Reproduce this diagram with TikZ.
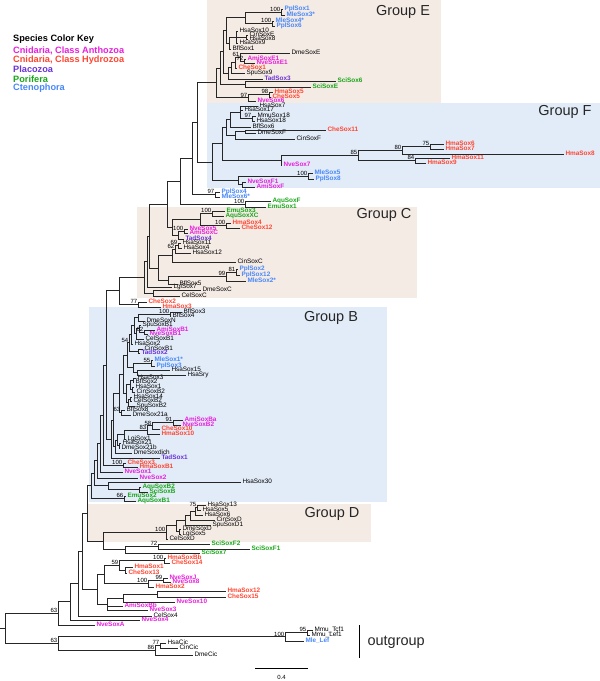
\documentclass[tikz,border=0pt]{standalone}
\usepackage{fontspec}
\setmainfont{Liberation Sans}

\definecolor{anthC}{RGB}{232,30,220}
\definecolor{hydrC}{RGB}{255,70,50}
\definecolor{placC}{RGB}{105,50,215}
\definecolor{poriC}{RGB}{25,165,25}
\definecolor{ctenC}{RGB}{70,135,250}
\definecolor{boxE}{RGB}{245,235,229}
\definecolor{boxF}{RGB}{226,236,248}

\tikzset{
	br/.style={line width=1pt, draw=black!85},
	lf/.style={anchor=west, inner xsep=1.3pt, inner ysep=0pt, text height=4.5pt, text depth=1.1pt, font=\fontsize{6.4}{7}\selectfont},
	anth/.style={lf, text=anthC, font=\fontsize{6.4}{7}\selectfont\bfseries},
	hydr/.style={lf, text=hydrC, font=\fontsize{6.4}{7}\selectfont\bfseries},
	plac/.style={lf, text=placC, font=\fontsize{6.4}{7}\selectfont\bfseries},
	pori/.style={lf, text=poriC, font=\fontsize{6.4}{7}\selectfont\bfseries},
	cten/.style={lf, text=ctenC, font=\fontsize{6.4}{7}\selectfont\bfseries},
	bs/.style={anchor=south east, inner xsep=0.6pt, inner ysep=0.4pt, font=\fontsize{6}{6}\selectfont},
	grp/.style={font=\fontsize{14.5}{16}\selectfont, text=black!85},
	key/.style={anchor=west, inner sep=0pt, font=\fontsize{9.2}{10}\selectfont\bfseries}
}

\begin{document}
\begin{tikzpicture}[x=1pt, y=-1pt]
	\useasboundingbox (0,0) rectangle (600,681);
	% group boxes
	\fill[boxE] (207,0) rectangle (441,103);
	\fill[boxF] (207,103) rectangle (600,188);
	\fill[boxE] (137,207) rectangle (417,298);
	\fill[boxF] (89,307) rectangle (387,502);
	\fill[boxE] (88,504) rectangle (371,542);
	\node[grp] (gE) at (403,12) {Group E};
	\node[grp] (gF) at (565,112) {Group F};
	\node[grp] (gC) at (384,215) {Group C};
	\node[grp] (gB) at (331,318) {Group B};
	\node[grp] (gD) at (332,514) {Group D};

	% colour key
	\node[key] (kTitle) at (13,39) {Species Color Key};
	\node[key, text=anthC] (kAnth) at (13,51) {Cnidaria, Class Anthozoa};
	\node[key, text=hydrC] (kHydr) at (13,60) {Cnidaria, Class Hydrozoa};
	\node[key, text=placC] (kPlac) at (13,69) {Placozoa};
	\node[key, text=poriC] (kPori) at (13,79) {Porifera};
	\node[key, text=ctenC] (kCten) at (13,88) {Ctenophora};

	% leaves
	\foreach \n/\x/\y/\t/\s in {
		PplSox1/283/9/PplSox1/cten, MleSox3s/285/15/MleSox3*/cten, MleSox4s/274/21/MleSox4*/cten, PplSox6/275/26/PplSox6/cten,
		HsaSox10/238/31/HsaSox10/lf, CinSoxE/248/35/CinSoxE/lf, HsaSox8/248/39/HsaSox8/lf, HsaSox9/238/43/HsaSox9/lf,
		BflSox1/231/49/BflSox1/lf, DmeSoxE/290/53/DmeSoxE/lf, AmiSoxE1/246/59/AmiSoxE1/anth, NveSoxE1/255/63/NveSoxE1/anth,
		CheSox1/237/68/CheSox1/hydr, SpuSox9/245/73/SpuSox9/lf, TadSox3/263/79/TadSox3/plac, SciSox6/336/81/SciSox6/pori,
		SciSoxE/311/87/SciSoxE/pori, HmaSox5/273/92/HmaSox5/hydr, CheSox5/271/97/CheSox5/hydr, NveSox6/256/101/NveSox6/anth,
		HsaSox7/258/106/HsaSox7/lf, HsaSox17/243/110/HsaSox17/lf, MmuSox18/256/116/MmuSox18/lf, HsaSox18/255/121/HsaSox18/lf,
		BflSox6/251/127/BflSox6/lf, CheSox11/326/130/CheSox11/hydr, DmeSoxF/256/133/DmeSoxF/lf, CinSoxF/295/139/CinSoxF/lf,
		HmaSox6/444/144/HmaSox6/hydr, HmaSox7/444/149/HmaSox7/hydr, HmaSox8/564/154/HmaSox8/hydr, HmaSox11/450/158/HmaSox11/hydr,
		HmaSox9/426/163/HmaSox9/hydr, NveSox7/282/165/NveSox7/anth, MleSox5/313/173/MleSox5/cten, PplSox8/314/179/PplSox8/cten,
		NveSoxF1/246/182/NveSoxF1/anth, AmiSoxF/255/187/AmiSoxF/anth, PplSox4/220/192/PplSox4/cten, MleSox6s/220/197/MleSox6*/cten,
		AquSoxF/271/201/AquSoxF/pori, EmuSox1/266/207/EmuSox1/pori,
		EmuSox3/225/211/EmuSox3/pori, AquSoxXC/224/216/AquSoxXC/pori, HmaSox4/231/223/HmaSox4/hydr, CheSox12/240/228/CheSox12/hydr,
		NveSox5/188/229/NveSox5/anth, AmiSoxC/188/233/AmiSoxC/anth, TadSox4/184/239/TadSox4/plac,
		HsaSox11/181/243/HsaSox11/lf, HsaSox4/182/248/HsaSox4/lf, HsaSox12/191/253/HsaSox12/lf, CinSoxC/236/262/CinSoxC/lf,
		PplSox2/238/269/PplSox2/cten, PplSox12/240/275/PplSox12/cten, MleSox2s/246/281/MleSox2*/cten,
		BflSox5/178/284/BflSox5/lf, LgiSox7/172/287/LgiSox7/lf, DmeSoxC/201/290/DmeSoxC/lf, CelSoxC/180/296/CelSoxC/lf,
		CheSox2/147/302/CheSox2/hydr, HmaSox3/161/307/HmaSox3/hydr,
		BflSox3/182/312/BflSox3/lf, BflSox4/171/316/BflSox4/lf, DmeSoxN/145/321/DmeSoxN/lf, SpuSoxB1/141/325/SpuSoxB1/lf,
		AmiSoxB1/155/330/AmiSoxB1/anth, NveSoxB1/148/334/NveSoxB1/anth, CelSoxB1/144/339/CelSoxB1/lf, HsaSox2/133/344/HsaSox2/lf,
		CinSoxB1/143/349/CinSoxB1/lf, TadSox2/140/353/TadSox2/plac, MleSox1s/153/360/MleSox1*/cten, PplSox3/155/366/PplSox3/cten,
		HsaSox15/170/370/HsaSox15/lf, HsaSry/186/375/HsaSry/lf, HsaSox3/136/378/HsaSox3/lf, BflSox2/134/382/BflSox2/lf,
		HsaSox1/134/387/HsaSox1/lf, CinSoxB2/135/392/CinSoxB2/lf, HsaSox14/132/397/HsaSox14/lf, CelSoxB2/132/401/CelSoxB2/lf,
		SpuSoxB2/135/406/SpuSoxB2/lf, BflSox8/125/410/BflSox8/lf, DmeSox21a/131/415/DmeSox21a/lf,
		AmiSoxBa/183/420/AmiSoxBa/anth, NveSoxB2/181/425/NveSoxB2/anth, CheSox10/160/429/CheSox10/hydr, HmaSox10/160/434/HmaSox10/hydr,
		LgiSox1/126/439/LgiSox1/lf, HsaSox21/121/443/HsaSox21/lf, DmeSox21b/120/448/DmeSox21b/lf, DmeSoxdich/132/453/DmeSoxdich/lf,
		TadSox1/160/458/TadSox1/plac, CheSox3/126/463/CheSox3/hydr, HmaSoxB1/138/467/HmaSoxB1/hydr,
		NveSox1/123/472/NveSox1/anth, NveSox2/138/478/NveSox2/anth, HsaSox30/241/482/HsaSox30/lf,
		AquSoxB2/141/487/AquSoxB2/pori, SciSoxB/148/492/SciSoxB/pori, EmuSox2/126/496/EmuSox2/pori, AquSoxB1/136/501/AquSoxB1/pori,
		HsaSox13/206/505/HsaSox13/lf, HsaSox5/201/510/HsaSox5/lf, HsaSox6/203/515/HsaSox6/lf, CinSoxD/215/520/CinSoxD/lf,
		SpuSoxD1/211/525/SpuSoxD1/lf, DmeSoxD/181/529/DmeSoxD/lf, LgiSox5/181/534/LgiSox5/lf, CelSoxD/168/539/CelSoxD/lf,
		SciSoxF2/210/544/SciSoxF2/pori, SciSoxF1/250/549/SciSoxF1/pori, SciSox7/200/553/SciSox7/pori,
		HmaSoxBb/166/558/HmaSoxBb/hydr, CheSox14/170/563/CheSox14/hydr, HmaSox1/133/567/HmaSox1/hydr, CheSox13/127/573/CheSox13/hydr,
		NveSoxJ/168/578/NveSoxJ/anth, NveSox8/171/582/NveSox8/anth, HmaSox2/154/587/HmaSox2/hydr,
		HmaSox12/226/591/HmaSox12/hydr, CheSox15/226/597/CheSox15/hydr, NveSox10/175/602/NveSox10/anth,
		AmiSoxBb/123/606/AmiSoxBb/anth, NveSox3/148/610/NveSox3/anth, CelSox4/152/616/CelSox4/lf,
		NveSox4/140/620/NveSox4/anth, NveSoxA/95/625/NveSoxA/anth,
		MmuTcf1/313/630/Mmu\_Tcf1/lf, MmuLef1/310/635/Mmu\_Lef1/lf, MleLef/304/641/Mle\_Lef/cten,
		HsaCic/166/643/HsaCic/lf, CinCic/178/648/CinCic/lf, DmeCic/193/655/DmeCic/lf}
		\node[\s] (\n) at (\x,\y) {\t};

	% inner nodes
	\foreach \n/\x/\y in {
		n100a/281/12, n100b/272/23.5, nE1/245/17.75, nE4/246/37, nE5/236/37, nE6/229/43, nE2/226/30.4,
		n72/244/61, n61/240/57, nE7/235/62.5, nE8/231/67.75, nE9/228/73.4, nE10/223/51.9, nSci/245/84,
		nE11/220/68, n98/269/94.5, n97/248/97.75, nEroot/216/82.9,
		n97F/252/118.5, nF2/240/112.25, nF3/230/119.6, nF5/245/131.5, nF6/235/135.25, nF7/226/127.4,
		n75/430/146.5, n80/402/150.25, n84/415/160.5, n85/358/155.4, nF8/281/160.2, nF10/222/143.8,
		n100F/308/176, nF11/242/184.5, nF12/238/180.25, nF13/212/162, nEF/197/122.5, n97b/215/194.5,
		nX1/192/158.5, nAqu/245/204, nX2/180/181.25,
		nCa/212/213.5, n100c/226/225.5, nC1/200/219.5, n100d/184/231, nC2/178/235, nC3/172/227.25,
		nX3/167/204.25, n69/178/245.5, n62/175/249.25, nC4/172/255.6, n81/236/272, n99/226/276.5,
		nC5/168/280.25, nC6/158/268, nX4/149/236, nX5/147/261.5, nDC/153/293, nX6/144/277.25,
		n77/138/304.5, nT2/119/290.9,
		n100B/170/314, b1/138/317.5, n62B/144/332, b2/139/328.5, b3/136/333.75, b4/134/325.6,
		b5/131/334.8, b6/138/351, b54/129/342.9, n55/151/363, nSry/137/372.5, b7/133/367.75, b8/127/355.3,
		b9/133/380, b10/132/389.5, b11/130/399, b12/130/384.75, b13/128/402.5, b14/126/393.6, b15/123/374.5,
		n63/121/412.5, b16/119/393.5, n91/173/422.5, n58/152/425.75, n83/147/430, b17/124/434.5,
		b18/119/445.5, b19/117/440, b20/115/446.5, b21/113/420, b22/111/439, nT1/106/365,
		n100B2/123/465, c1/103/415, c2/100/443.5, c3/97/460.75, nAS/139/489.5, nHS/108/485.75,
		c4/94/473.25, n66/124/498.5, A5/91/485.9,
		n75D/197/507.5, nD4/195/511.25, nD3/190/515.6, nD2/185/520.3, nDL/179/531.5, nD1/176/525.9,
		D100/166/532.5, n72S/158/546.5, S1/125/549.75, D0/103/541, A4/87/513.5,
		n100f/164/560.5, nHC/125/570, n59/119/565.25, n99b/163/580, n100e/148/583.5, B5/104/574.4,
		C1/157/594, C2/123/598, C3/107/604, B4/97/589.2, A3/82/551.3, A2/78/583.7, A1/70/601.8, A0/58/613.4,
		n95/307/632.5, n100o/285/636.75, n77o/160/645.5, n86/155/650.25, O1/58/643.5, R/5/628.5, R0/0/628.5}
		\coordinate (\n) at (\x,\y);

	% branches
	\foreach \p/\c in {
		n100a/PplSox1, n100a/MleSox3s, n100b/MleSox4s, n100b/PplSox6, nE1/n100a, nE1/n100b,
		nE4/CinSoxE, nE4/HsaSox8, nE5/HsaSox10, nE5/nE4, nE5/HsaSox9, nE6/nE5, nE6/BflSox1, nE2/nE1, nE2/nE6,
		n72/AmiSoxE1, n72/NveSoxE1, n61/DmeSoxE, n61/n72, nE7/n61, nE7/CheSox1, nE8/nE7, nE8/SpuSox9,
		nE9/nE8, nE9/TadSox3, nE10/nE2, nE10/nE9, nSci/SciSox6, nSci/SciSoxE, nE11/nE10, nE11/nSci,
		n98/HmaSox5, n98/CheSox5, n97/n98, n97/NveSox6, nEroot/nE11, nEroot/n97,
		n97F/MmuSox18, n97F/HsaSox18, nF2/HsaSox7, nF2/HsaSox17, nF2/n97F, nF3/nF2, nF3/BflSox6,
		nF5/CheSox11, nF5/DmeSoxF, nF6/nF5, nF6/CinSoxF, nF7/nF3, nF7/nF6,
		n75/HmaSox6, n75/HmaSox7, n80/n75, n80/HmaSox8, n84/HmaSox11, n84/HmaSox9, n85/n80, n85/n84,
		nF8/n85, nF8/NveSox7, nF10/nF7, nF10/nF8, n100F/MleSox5, n100F/PplSox8, nF11/NveSoxF1, nF11/AmiSoxF,
		nF12/n100F, nF12/nF11, nF13/nF10, nF13/nF12, nEF/nEroot, nEF/nF13, n97b/PplSox4, n97b/MleSox6s,
		nX1/nEF, nX1/n97b, nAqu/AquSoxF, nAqu/EmuSox1, nX2/nX1, nX2/nAqu,
		nCa/EmuSox3, nCa/AquSoxXC, n100c/HmaSox4, n100c/CheSox12, nC1/nCa, nC1/n100c,
		n100d/NveSox5, n100d/AmiSoxC, nC2/n100d, nC2/TadSox4, nC3/nC1, nC3/nC2, nX3/nX2, nX3/nC3,
		n69/HsaSox11, n69/HsaSox4, n62/n69, n62/HsaSox12, nC4/n62, nC4/CinSoxC,
		n81/PplSox2, n81/PplSox12, n99/n81, n99/MleSox2s, nC5/n99, nC5/BflSox5, nC6/nC4, nC6/nC5,
		nX4/nX3, nX4/nC6, nX5/nX4, nX5/LgiSox7, nDC/DmeSoxC, nDC/CelSoxC, nX6/nX5, nX6/nDC,
		n77/CheSox2, n77/HmaSox3, nT2/nX6, nT2/n77,
		n100B/BflSox3, n100B/BflSox4, b1/n100B, b1/DmeSoxN, n62B/AmiSoxB1, n62B/NveSoxB1,
		b2/SpuSoxB1, b2/n62B, b3/b2, b3/CelSoxB1, b4/b1, b4/b3, b5/b4, b5/HsaSox2, b6/CinSoxB1, b6/TadSox2,
		b54/b5, b54/b6, n55/MleSox1s, n55/PplSox3, nSry/HsaSox15, nSry/HsaSry, b7/n55, b7/nSry, b8/b54, b8/b7,
		b9/HsaSox3, b9/BflSox2, b10/HsaSox1, b10/CinSoxB2, b11/HsaSox14, b11/CelSoxB2, b12/b9, b12/b10,
		b13/b11, b13/SpuSoxB2, b14/b12, b14/b13, b15/b8, b15/b14, n63/BflSox8, n63/DmeSox21a, b16/b15, b16/n63,
		n91/AmiSoxBa, n91/NveSoxB2, n58/n91, n58/CheSox10, n83/n58, n83/HmaSox10, b17/n83, b17/LgiSox1,
		b18/HsaSox21, b18/DmeSox21b, b19/b17, b19/b18, b20/b19, b20/DmeSoxdich, b21/b16, b21/b20,
		b22/b21, b22/TadSox1, nT1/nT2, nT1/b22, n100B2/CheSox3, n100B2/HmaSoxB1, c1/nT1, c1/n100B2,
		c2/c1, c2/NveSox1, c3/c2, c3/NveSox2, nAS/AquSoxB2, nAS/SciSoxB, nHS/HsaSox30, nHS/nAS,
		c4/c3, c4/nHS, n66/EmuSox2, n66/AquSoxB1, A5/c4, A5/n66,
		n75D/HsaSox13, n75D/HsaSox5, nD4/n75D, nD4/HsaSox6, nD3/nD4, nD3/CinSoxD, nD2/nD3, nD2/SpuSoxD1,
		nDL/DmeSoxD, nDL/LgiSox5, nD1/nD2, nD1/nDL, D100/nD1, D100/CelSoxD,
		n72S/SciSoxF2, n72S/SciSoxF1, S1/n72S, S1/SciSox7, D0/D100, D0/S1, A4/A5, A4/D0,
		n100f/HmaSoxBb, n100f/CheSox14, nHC/HmaSox1, nHC/CheSox13, n59/n100f, n59/nHC,
		n99b/NveSoxJ, n99b/NveSox8, n100e/n99b, n100e/HmaSox2, B5/n59, B5/n100e,
		C1/HmaSox12, C1/CheSox15, C2/C1, C2/NveSox10, C3/C2, C3/AmiSoxBb, C3/NveSox3, B4/B5, B4/C3,
		A3/A4, A3/B4, A2/A3, A2/CelSox4, A1/A2, A1/NveSox4, A0/A1, A0/NveSoxA,
		n95/MmuTcf1, n95/MmuLef1, n100o/n95, n100o/MleLef, n77o/HsaCic, n77o/CinCic, n86/n77o, n86/DmeCic,
		O1/n100o, O1/n86, R/A0, R/O1}
		\draw[br] (\p) |- (\c);
	\draw[br] (R0) -- (R);

	% bootstrap values
	\foreach \n/\v in {
		n100a/100, n100b/100, n61/61, n72/72, n98/98, n97/97, n97F/97, n75/75, n80/80, n85/85, n84/84,
		n100F/100, n97b/97, nAqu/100, nCa/100, n100c/100, n100d/100, n69/69, n62/62, n81/81, n99/99, n77/77,
		n100B/100, n62B/62, b54/54, n55/55, n63/63, n91/91, n58/58, n83/83, n100B2/100, n66/66,
		n75D/75, D100/100, n72S/72, n59/59, n100f/100, n100e/100, n99b/99, A0/63, O1/63,
		n100o/100, n95/95, n86/86, n77o/77}
		\node[bs] (b\n) at (\n) {\v};

	% outgroup bar and scale
	\coordinate (ogTop) at (359,625);
	\coordinate (ogBot) at (359,658);
	\draw[line width=1pt] (ogTop) -- (ogBot);
	\node[grp, anchor=west] (og) at (364,642) {outgroup};
	\coordinate (sbL) at (255,668);
	\coordinate (sbR) at (308,668);
	\draw[line width=1pt] (sbL) -- (sbR);
	\node[font=\fontsize{6}{7}\selectfont] (sbT) at (281.5,677) {0.4};
\end{tikzpicture}
\end{document}
